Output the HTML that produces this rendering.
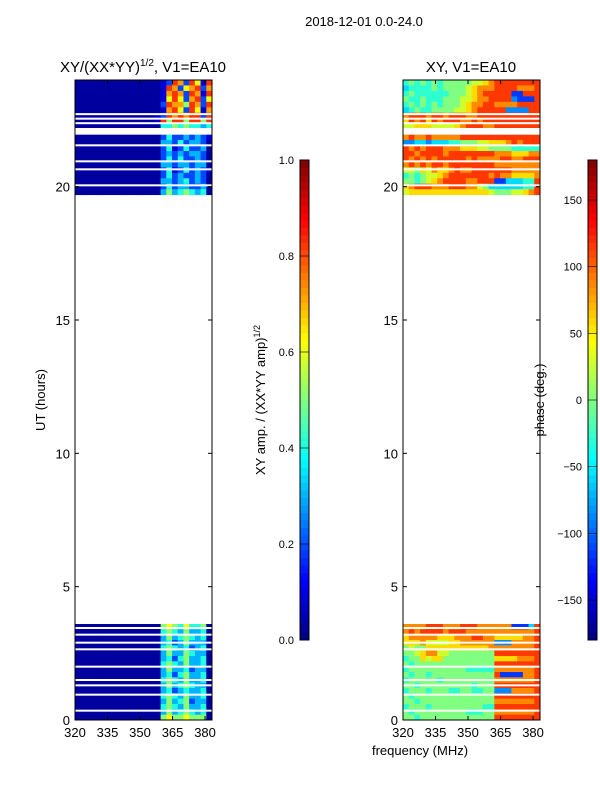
<!DOCTYPE html>
<html><head><meta charset="utf-8"><style>
html,body{margin:0;padding:0;background:#fff;}
svg text{font-family:"Liberation Sans",sans-serif;fill:#000;}
</style></head><body>
<svg id="fig" width="600" height="800" xmlns="http://www.w3.org/2000/svg">
<text x="364" y="26" font-size="13" text-anchor="middle">2018-12-01 0.0-24.0</text>
<text x="143" y="72" font-size="15" text-anchor="middle">XY/(XX*YY)<tspan font-size="10" dy="-6">1/2</tspan><tspan dy="6">, V1=EA10</tspan></text>
<text x="471" y="72" font-size="15" text-anchor="middle">XY, V1=EA10</text>
<text transform="translate(45,400) rotate(-90)" font-size="13" text-anchor="middle">UT (hours)</text>
<text x="420" y="755" font-size="13" text-anchor="middle">frequency (MHz)</text>
<text transform="translate(265,400) rotate(-90)" font-size="13" text-anchor="middle">XY amp. / (XX*YY amp)<tspan font-size="9" dy="-5">1/2</tspan></text>
<text transform="translate(544,400) rotate(-90)" font-size="13" text-anchor="middle">phase (deg.)</text>
<g id="panels"></g>
</svg>
<script>
const hourTicks=[0,5,10,15,20];
const freqTicks=[320,335,350,365,380];
const ampCbTicks=[0.0,0.2,0.4,0.6,0.8,1.0];
const phaseCbTicks=[-150,-100,-50,0,50,100,150];
const topBlock=[19.7,24];
const bottomBlock=[0,3.6];
const gapHours=[22.72,22.55,22.38,21.55,20.95,20.65,20.05,3.45,3.2,2.9,2.65,2.0,1.5,1.3,0.95,0.35];
const wideGap=[21.95,22.2];
const ampTop=["111111111111111239839729","111111111111111298378938","111111111111111289839829","111111111111111279738937","111111111111111398869839","111111111111111289739728","111111111111112398989939","111111111111112969969969","111111111111111556565545","111111111111111445353442","111111111111111353343432","111111111111111443534431","111111111111111352353341","111111111111111343434431","111111111111111353533431","111111111111111443443441","111111111111111352353432","111111111111111353433431","111111111111111443453431","111111111111111353443341","111111111111111464565451"];
const ampBottom=["111111111111111676575561","111111111111111565464451","111111111111111464565451","111111111111111453464441","111111111111111565453451","111111111111111464465441","111111111111111453564451","111111111111111565464451","111111111111111464453441","111111111111111453564451","111111111111111565464451","111111111111111464565441","111111111111111453454451","111111111111111565464451","111111111111111464563441","111111111111111565464451","111111111111111464565451","111111111111111676676661"];
const phaseTop=["454545455555667899999999","344445455556788899998889","454444445556789999911999","544544455566788999921119","454545455567889988889999","345445555667899999222299","899989989998899999999999","798979899988989999999999","667776666789998899999999","221232222333222222211123","898898888899999999999999","223323334455566777898999","989899988877766555544444","998999989999999988877788","989898999998988889988999","898989989999999988888888","665768778988999999988888","454566789999999898877778","554567899998899911333449","789998889998865333333449","677777777777777655566789"];
const phaseBottom=["888899988899988888811139","898999989998888888888889","788888777888998877777889","777866667788888822288889","565577777777777888888889","556788665555555599999999","455767755555555577778889","545555555555555599999999","455555555554444488888889","545545555555555591111889","455555455555555588888889","554555555555455599999999","455545554455445522288889","545555555555555599999999","554555555555555588888889","455545555555554499999999","545555555554445588888889","554555555555555599999999"];

const NS="http://www.w3.org/2000/svg";
const g=document.getElementById('panels');
function mk(t,a,p){const e=document.createElementNS(NS,t);for(const k in a)e.setAttribute(k,a[k]);(p||g).appendChild(e);return e;}
function jet(v){v=Math.max(0,Math.min(1,v));const r=Math.max(0,Math.min(1,1.5-Math.abs(4*v-3))),gg=Math.max(0,Math.min(1,1.5-Math.abs(4*v-2))),b=Math.max(0,Math.min(1,1.5-Math.abs(4*v-1)));return `rgb(${Math.round(r*255)},${Math.round(gg*255)},${Math.round(b*255)})`;}
const Y0=720,Y1=80,fmin=320,fmax=383.2;
function yS(h){return Y0-(h/24)*(Y0-Y1);}
function drawPanel(x0,x1,top,bottom,valfn,name){
  const xS=f=>x0+(f-fmin)/(fmax-fmin)*(x1-x0);
  const grp=mk('g',{});
  
  
  [[top,topBlock],[bottom,bottomBlock]].forEach(([rows,blk])=>{
    const dh=(blk[1]-blk[0])/rows.length;
    rows.forEach((row,i)=>{
      const hTop=blk[1]-i*dh,hBot=hTop-dh;
      const nc=row.length,df=(fmax-fmin)/nc;
      for(let j=0;j<nc;j++){
        const c=mk('rect',{x:xS(fmin+j*df),y:yS(hTop),width:(x1-x0)/nc+0.4,height:yS(hBot)-yS(hTop)+0.4,fill:jet(valfn(+row[j]))},grp);
        
        
      }
    });
  });
  gapHours.forEach(h=>{const l=mk('rect',{x:x0,y:yS(h)-1,width:x1-x0,height:2,fill:'#fff'},grp);});
  const w=mk('rect',{x:x0,y:yS(wideGap[1]),width:x1-x0,height:yS(wideGap[0])-yS(wideGap[1]),fill:'#fff'},grp);
  
  const fr=mk('rect',{x:x0,y:Y1,width:x1-x0,height:Y0-Y1,fill:'none',stroke:'#000','stroke-width':1});
  
  hourTicks.forEach(h=>{const y=yS(h);
    mk('line',{x1:x0,x2:x0+4,y1:y,y2:y,stroke:'#000'});mk('line',{x1:x1,x2:x1-4,y1:y,y2:y,stroke:'#000'});
    const t=mk('text',{x:x0-5,y:y+5,'font-size':13,'text-anchor':'end'});t.textContent=h;
    });
  freqTicks.forEach(f=>{const x=xS(f);
    mk('line',{x1:x,x2:x,y1:Y0,y2:Y0-4,stroke:'#000'});mk('line',{x1:x,x2:x,y1:Y1,y2:Y1+4,stroke:'#000'});
    const t=mk('text',{x:x,y:Y0+17,'font-size':13,'text-anchor':'middle'});t.textContent=f;
    });
}
drawPanel(75,212,ampTop,ampBottom,d=>d<=1?0.03:d*0.105-0.12,'amplitude-heatmap');
drawPanel(403,540,phaseTop,phaseBottom,d=>0.1+d*0.08,'phase-heatmap');
function colorbar(x,ticks,vmin,vmax,name,fmt){
  const top=160,bot=640,n=64;
  const grp=mk('g',{});
  
  
  for(let i=0;i<n;i++){mk('rect',{x:x,y:bot-(i+1)*(bot-top)/n,width:9,height:(bot-top)/n+0.5,fill:jet((i+0.5)/n)},grp);}
  mk('rect',{x:x,y:top,width:9,height:bot-top,fill:'none',stroke:'#000'},grp);
  ticks.forEach(v=>{const y=bot-(v-vmin)/(vmax-vmin)*(bot-top);
    mk('line',{x1:x,x2:x+9,y1:y,y2:y,stroke:'#000','stroke-width':0.6},grp);
    const t=mk('text',{x:x-6,y:y+4,'font-size':11,'text-anchor':'end'},grp);t.textContent=fmt(v);
    });
}
colorbar(300,ampCbTicks,0,1,'amp-colorbar',v=>v.toFixed(1));
colorbar(588,phaseCbTicks,-180,180,'phase-colorbar',v=>v<0?'\u2212'+(-v):String(v));
</script>
</body></html>
